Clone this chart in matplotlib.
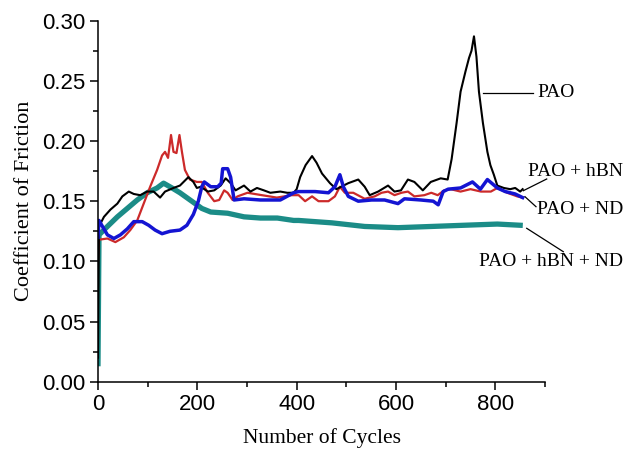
import matplotlib
matplotlib.use("Agg")
import matplotlib.pyplot as plt
from matplotlib.ticker import MultipleLocator

# ---- data ----
pao_x = [0, 2, 12, 25, 39, 49, 62, 72, 85, 99, 112, 125, 135, 152, 165, 182, 192, 199, 207, 221,
         234, 247, 257, 267, 277, 294, 307, 320, 334, 347, 367, 381, 394, 400, 407, 418, 431, 440,
         451, 467, 480, 504, 524, 537, 547, 564, 584, 597, 610, 624, 637, 654, 670, 690, 704, 712,
         722, 730, 740, 747, 752, 757, 762, 767, 775, 784, 790, 797, 804, 817, 830, 840, 850, 855]
pao_y = [0.020, 0.129, 0.137, 0.143, 0.148, 0.154, 0.158, 0.156, 0.155, 0.158, 0.158, 0.153, 0.158,
         0.161, 0.163, 0.170, 0.166, 0.161, 0.162, 0.158, 0.159, 0.163, 0.169, 0.165, 0.159, 0.163,
         0.158, 0.161, 0.159, 0.157, 0.158, 0.157, 0.157, 0.160, 0.170, 0.180, 0.1875, 0.182, 0.173,
         0.165, 0.160, 0.165, 0.168, 0.162, 0.155, 0.158, 0.163, 0.158, 0.159, 0.168, 0.166, 0.159,
         0.166, 0.169, 0.168, 0.185, 0.215, 0.241, 0.258, 0.269, 0.275, 0.287, 0.270, 0.241, 0.215,
         0.191, 0.180, 0.172, 0.163, 0.161, 0.160, 0.161, 0.158, 0.160]

nd_x = [0, 2, 19, 35, 52, 65, 79, 92, 105, 119, 129, 135, 141, 147, 152, 158, 164, 169, 175, 185,
        199, 209, 221, 234, 244, 254, 261, 271, 281, 301, 330, 360, 390, 404, 417, 431, 444, 464,
        477, 487, 497, 514, 537, 557, 571, 584, 597, 611, 624, 637, 657, 671, 684, 697, 710, 730,
        750, 771, 791, 804, 824, 844, 855]
nd_y = [0.100, 0.118, 0.119, 0.116, 0.120, 0.126, 0.134, 0.148, 0.162, 0.176, 0.188, 0.191, 0.186,
        0.205, 0.191, 0.190, 0.205, 0.191, 0.176, 0.168, 0.166, 0.166, 0.157, 0.150, 0.151, 0.159,
        0.157, 0.151, 0.154, 0.157, 0.155, 0.153, 0.155, 0.155, 0.150, 0.154, 0.150, 0.150, 0.154,
        0.162, 0.157, 0.157, 0.152, 0.154, 0.157, 0.158, 0.155, 0.157, 0.158, 0.154, 0.155, 0.157,
        0.155, 0.159, 0.160, 0.158, 0.160, 0.158, 0.158, 0.161, 0.157, 0.154, 0.153]

hbn_x = [0, 2, 9, 19, 32, 45, 59, 72, 89, 102, 115, 129, 145, 165, 179, 192, 202, 209, 214, 227,
         241, 248, 251, 261, 267, 274, 294, 327, 367, 394, 404, 437, 464, 477, 487, 494, 504, 524,
         551, 577, 604, 617, 650, 675, 685, 695, 705, 730, 754, 770, 784, 804, 820, 840, 855]
hbn_y = [0.120, 0.134, 0.129, 0.122, 0.119, 0.122, 0.127, 0.133, 0.133, 0.130, 0.126, 0.123, 0.125,
         0.126, 0.130, 0.139, 0.150, 0.162, 0.166, 0.162, 0.162, 0.165, 0.177, 0.177, 0.170, 0.151,
         0.152, 0.151, 0.151, 0.157, 0.158, 0.158, 0.157, 0.162, 0.172, 0.162, 0.154, 0.150, 0.151,
         0.151, 0.148, 0.152, 0.151, 0.150, 0.147, 0.158, 0.160, 0.161, 0.166, 0.160, 0.168, 0.161,
         0.158, 0.156, 0.153]

mix_x = [0, 2, 19, 39, 59, 79, 99, 119, 132, 149, 165, 182, 199, 209, 227, 261, 294, 327, 361, 394,
         404, 471, 537, 604, 671, 737, 804, 850]
mix_y = [0.015, 0.122, 0.129, 0.137, 0.144, 0.151, 0.157, 0.161, 0.165, 0.161, 0.157, 0.152, 0.147,
         0.144, 0.141, 0.140, 0.137, 0.136, 0.136, 0.134, 0.134, 0.132, 0.129, 0.128, 0.129, 0.130,
         0.131, 0.130]

labels = ["PAO", "PAO + hBN", "PAO + ND", "PAO + hBN + ND"]

# ---- figure ----
fig = plt.figure(figsize=(6.25, 4.5), dpi=100)
ax = fig.add_axes([0.1568, 0.1518, 0.872 - 0.1568, 0.954 - 0.1518])

ax.plot(mix_x, mix_y, color="#1b8c87", lw=3.8, solid_joinstyle="round")
ax.plot(nd_x, nd_y, color="#cc2a2a", lw=1.6)
ax.plot(pao_x, pao_y, color="black", lw=1.5)
ax.plot(hbn_x, hbn_y, color="#1414d2", lw=2.5)

ax.set_xlim(0, 900)
ax.set_ylim(0, 0.30)
ax.xaxis.set_major_locator(MultipleLocator(200))
ax.xaxis.set_minor_locator(MultipleLocator(100))
ax.yaxis.set_major_locator(MultipleLocator(0.05))
ax.yaxis.set_minor_locator(MultipleLocator(0.025))
ax.yaxis.set_major_formatter(plt.FuncFormatter(lambda v, p: f"{v:.2f}"))

for s in ["top", "right"]:
    ax.spines[s].set_visible(False)
for s in ["left", "bottom"]:
    ax.spines[s].set_linewidth(1.1)

ax.tick_params(which="major", direction="out", length=6, width=1.1, pad=3,
               labelsize=16, labelfontfamily="Liberation Sans")
ax.tick_params(which="minor", direction="out", length=3.5, width=1.1)

ax.set_xlabel("Number of Cycles", fontsize=15.5, family="Liberation Serif", labelpad=9)
ax.set_ylabel("Coefficient of Friction", fontsize=16, family="Liberation Serif", labelpad=6)

# annotations: lines drawn in data coords, text at the right
def px2data(px, py):
    return (px - 98) * 900.0 / 447.0, (381.7 - py) * 0.3 / 361.0

ann_font = dict(fontsize=14, family="Liberation Serif", color="black")
lines = [((482.7, 93), (533, 93)),
         ((523.3, 190.7), (546.7, 179)),
         ((525, 196.7), (536, 206.7)),
         ((526.7, 228.3), (563.3, 251.7))]
for (a, b) in lines:
    x0, y0 = px2data(*a)
    x1, y1 = px2data(*b)
    ax.plot([x0, x1], [y0, y1], color="black", lw=0.9, clip_on=False)

texts = [(537, 93, "left"), (623, 172, "right"), (623, 210, "right"), (623, 262, "right")]
for (tx, ty, ha), lab in zip(texts, labels):
    x, y = px2data(tx, ty)
    ax.text(x, y, lab, ha=ha, va="center", clip_on=False, **ann_font)

fig.savefig("out.png", dpi=100)
